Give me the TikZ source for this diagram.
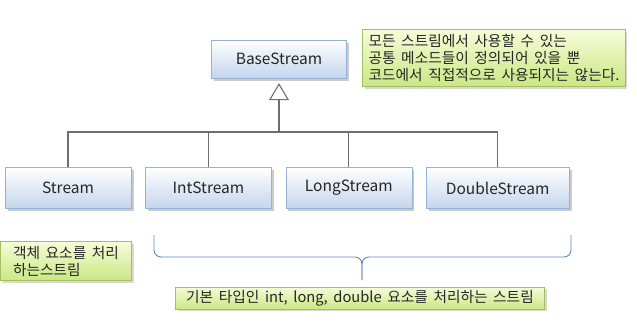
\documentclass[tikz,border=0pt]{standalone}
\usepackage{fontspec}
\setmainfont{Noto Sans CJK KR}
\newfontfamily\notefont[WordSpace=1.7]{Noto Sans CJK KR}
\usetikzlibrary{positioning, arrows.meta, shadows}
\definecolor{boxline}{HTML}{95B3D7}
\definecolor{boxbot}{HTML}{C4D5EC}
\definecolor{noteline}{HTML}{A3C05E}
\definecolor{notetop}{HTML}{F6FCD8}
\definecolor{notebot}{HTML}{CBE784}
\definecolor{bracecol}{HTML}{6088C4}
\definecolor{linkcol}{HTML}{6E6E6E}
\tikzset{x=1pt, y=-1pt, % one unit is one pixel of the page
classbox/.style={draw=boxline, top color=white, bottom color=boxbot,
  minimum width=126pt, minimum height=41pt, text=black!85,
  font=\fontsize{15.5}{18}\selectfont,
  drop shadow={shadow xshift=2.5pt, shadow yshift=-2.5pt, fill=black!40}},
notebox/.style={draw=noteline, top color=notetop, bottom color=notebot,
  align=left, inner xsep=6pt, text=black!85,
  font=\notefont\fontsize{14.7}{17}\selectfont,
  drop shadow={shadow xshift=2pt, shadow yshift=-2pt, fill=black!30}},
link/.style={draw=linkcol, line width=1.1pt},
bracket/.style={draw=bracecol, line width=0.9pt, rounded corners=7pt},
node distance=14pt, % gap between the stream boxes
}
\begin{document}
\begin{tikzpicture}
  \useasboundingbox[fill=white] (0,0) rectangle (637,332);

  \node[classbox, minimum width=135pt, minimum height=38pt] (base) at (279,59) {BaseStream};
  \node[classbox] (stream) at (68,188) {Stream};
  \node[classbox, right=of stream] (intstream) {IntStream};
  \node[classbox, right=of intstream] (longstream) {LongStream};
  \node[classbox, minimum width=143pt, right=of longstream] (doublestream) {DoubleStream};

  \node[notebox, minimum width=259pt, minimum height=57pt] (basenote) at (494,58)
    {모든 스트림에서 사용할 수 있는\\공통 메소드들이 정의되어 있을 뿐\\코드에서 직접적으로 사용되지는 않는다.};
  \node[notebox, minimum width=131pt, minimum height=39pt] (objnote) at (66,261)
    {객체 요소를 처리\\하는스트림};
  \node[notebox, minimum width=369pt, minimum height=22pt, inner ysep=2pt] (primnote) at (360,298)
    {기본 타입인 int, long, double 요소를 처리하는 스트림};

  % hierarchy lines
  \coordinate (lvl) at (0,132);
  \coordinate (junc) at (base.south |- lvl);
  \draw[link] (stream.north) |- (doublestream.north |- lvl) -- (doublestream.north);
  \draw[link] (intstream.north) -- (intstream.north |- lvl);
  \draw[link] (longstream.north) -- (longstream.north |- lvl);
  \draw[link, -{Triangle[open, length=17pt, width=20pt]}, shorten >=5pt] (junc) -- (base.south);

  % brace over the primitive streams
  \coordinate (bl) at (154,235);
  \coordinate (br) at (571,235);
  \coordinate (bm) at (362,257);
  \coordinate (tip) at (362,280);
  \draw[bracket] (bl) |- (bm) -- (tip);
  \draw[bracket] (br) |- (bm) -- (tip);
\end{tikzpicture}
\end{document}
